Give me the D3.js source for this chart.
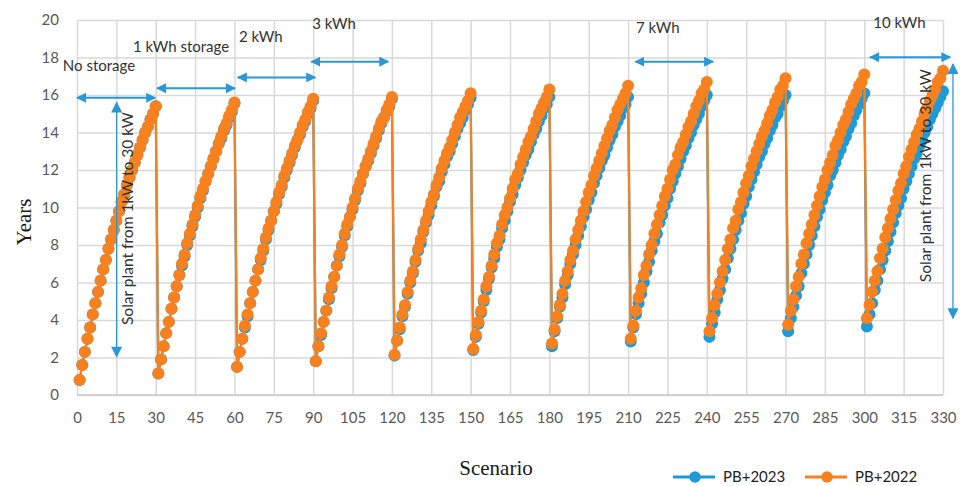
<!DOCTYPE html>
<html>
<head>
<meta charset="utf-8">
<script src="https://cdn.jsdelivr.net/npm/d3@7"></script>
<style>
  html, body { margin: 0; padding: 0; background: #fff; }
  svg { display: block; }
</style>
</head>
<body>
<svg id="chart" width="963" height="486"></svg>
<script>
// ---------------- DATA ----------------
const xTickValues = [0, 15, 30, 45, 60, 75, 90, 105, 120, 135, 150, 165, 180, 195, 210, 225, 240, 255, 270, 285, 300, 315, 330];
const yTickValues = [0, 2, 4, 6, 8, 10, 12, 14, 16, 18, 20];
const seriesNames = ["PB+2023", "PB+2022"];
const storageLabels = ["No storage", "1 kWh storage", "2 kWh", "3 kWh", "7 kWh", "10 kWh"];
const sideLabel = "Solar plant from 1kW to 30 kW";

// PB+2022 (orange)
const pb2022 = [
  0.8,1.6,2.3,3.0,3.6,4.3,4.9,5.5,6.1,6.7,7.2,7.8,8.3,8.8,9.3,9.8,10.3,10.7,11.2,11.6,12.0,12.4,12.8,13.2,13.6,14.0,14.3,14.7,15.0,15.4,
  1.15,1.9,2.6,3.3,3.9,4.6,5.2,5.8,6.4,7.0,7.5,8.1,8.6,9.1,9.6,10.1,10.6,11.0,11.4,11.8,12.2,12.6,13.0,13.4,13.8,14.2,14.5,14.9,15.2,15.6,
  1.5,2.3,3.0,3.7,4.3,4.9,5.5,6.1,6.7,7.3,7.8,8.4,8.9,9.3,9.8,10.3,10.8,11.2,11.7,12.1,12.5,12.9,13.3,13.6,14.0,14.4,14.7,15.1,15.4,15.8,
  1.8,2.6,3.3,3.9,4.5,5.2,5.8,6.3,6.9,7.5,8.0,8.6,9.1,9.5,10.0,10.5,11.0,11.4,11.8,12.2,12.6,13.0,13.4,13.8,14.2,14.6,14.8,15.2,15.5,15.9,
  2.15,2.9,3.6,4.3,4.8,5.5,6.1,6.6,7.2,7.8,8.3,8.8,9.3,9.8,10.3,10.7,11.2,11.6,12.1,12.5,12.9,13.2,13.6,14.0,14.4,14.8,15.1,15.4,15.7,16.1,
  2.45,3.2,3.9,4.5,5.1,5.8,6.3,6.9,7.5,8.1,8.5,9.1,9.6,10.0,10.5,11.0,11.5,11.8,12.3,12.7,13.1,13.5,13.8,14.2,14.6,15.0,15.3,15.6,15.9,16.3,
  2.75,3.5,4.2,4.8,5.4,6.1,6.6,7.2,7.7,8.3,8.8,9.3,9.8,10.3,10.8,11.2,11.7,12.1,12.5,12.9,13.3,13.7,14.1,14.4,14.8,15.2,15.5,15.8,16.1,16.5,
  3.0,3.7,4.5,5.2,5.7,6.4,6.9,7.5,8.0,8.6,9.1,9.6,10.1,10.6,11.0,11.5,12.0,12.3,12.8,13.2,13.5,13.9,14.3,14.6,15.0,15.4,15.7,16.1,16.3,16.7,
  3.4,4.1,4.8,5.4,6.0,6.6,7.2,7.8,8.3,8.9,9.3,9.9,10.3,10.8,11.3,11.7,12.2,12.6,13.0,13.4,13.8,14.1,14.5,14.9,15.2,15.6,15.9,16.3,16.5,16.9,
  3.75,4.5,5.1,5.8,6.3,7.0,7.5,8.1,8.6,9.1,9.6,10.1,10.6,11.1,11.5,12.0,12.4,12.8,13.3,13.6,14.0,14.4,14.7,15.1,15.5,15.8,16.1,16.5,16.7,17.1,
  4.1,4.8,5.5,6.1,6.6,7.3,7.8,8.4,8.9,9.4,9.9,10.4,10.9,11.3,11.8,12.2,12.7,13.1,13.5,13.9,14.2,14.6,15.0,15.3,15.7,16.0,16.3,16.7,16.9,17.3
];

// PB+2023 (blue)
const pb2023 = [
  0.8,1.6,2.3,3.0,3.6,4.3,4.9,5.5,6.1,6.7,7.2,7.8,8.3,8.8,9.3,9.8,10.3,10.7,11.2,11.6,12.0,12.4,12.8,13.2,13.6,14.0,14.3,14.7,15.0,15.4,
  1.15,1.9,2.6,3.3,3.9,4.6,5.2,5.8,6.4,6.9,7.4,8.0,8.5,9.0,9.5,10.0,10.5,10.9,11.4,11.8,12.2,12.6,13.0,13.4,13.7,14.1,14.4,14.8,15.1,15.55,
  1.5,2.3,3.0,3.6,4.2,4.9,5.5,6.1,6.7,7.2,7.7,8.3,8.8,9.3,9.8,10.2,10.7,11.1,11.6,12.0,12.4,12.8,13.2,13.6,13.9,14.3,14.6,15.0,15.3,15.7,
  1.8,2.6,3.2,3.9,4.5,5.1,5.7,6.3,6.9,7.4,7.9,8.5,9.0,9.5,9.9,10.4,10.9,11.3,11.8,12.2,12.5,12.9,13.3,13.7,14.1,14.5,14.8,15.1,15.4,15.8,
  2.1,2.9,3.5,4.2,4.7,5.4,6.0,6.5,7.1,7.7,8.1,8.7,9.2,9.6,10.1,10.6,11.1,11.4,11.9,12.3,12.7,13.0,13.4,13.8,14.2,14.5,14.8,15.2,15.5,15.85,
  2.4,3.1,3.8,4.4,5.0,5.6,6.2,6.8,7.3,7.9,8.3,8.9,9.3,9.8,10.3,10.7,11.2,11.6,12.0,12.4,12.8,13.1,13.5,13.9,14.2,14.6,14.9,15.3,15.5,15.9,
  2.6,3.4,4.1,4.7,5.2,5.9,6.4,7.0,7.5,8.0,8.5,9.0,9.5,9.9,10.4,10.8,11.3,11.7,12.1,12.5,12.8,13.2,13.6,13.9,14.3,14.6,14.9,15.3,15.5,15.9,
  2.85,3.6,4.3,4.9,5.4,6.0,6.6,7.1,7.7,8.2,8.6,9.2,9.6,10.1,10.5,11.0,11.4,11.8,12.2,12.6,13.0,13.3,13.7,14.0,14.4,14.7,15.0,15.4,15.7,16.0,
  3.1,3.8,4.4,5.1,5.6,6.2,6.7,7.3,7.8,8.3,8.8,9.3,9.7,10.2,10.6,11.1,11.5,11.9,12.3,12.7,13.0,13.4,13.7,14.1,14.4,14.8,15.0,15.4,15.7,16.0,
  3.4,4.1,4.7,5.3,5.8,6.5,7.0,7.5,8.0,8.5,9.0,9.5,9.9,10.4,10.8,11.2,11.7,12.0,12.4,12.8,13.1,13.5,13.8,14.2,14.5,14.9,15.2,15.5,15.8,16.1,
  3.65,4.3,4.9,5.6,6.1,6.7,7.2,7.7,8.2,8.7,9.2,9.7,10.1,10.5,11.0,11.4,11.8,12.2,12.6,12.9,13.3,13.6,14.0,14.3,14.7,15.0,15.3,15.6,15.9,16.2
];

// ---------------- LAYOUT / STYLE ----------------
const W = 963, H = 486;
const margin = { left: 77, right: 20, top: 20, bottom: 91 };
const BLUE = "#1e9ad8";
const ORANGE = "#f7811f";
const ARROW = "#2a98d6";
const GRID = "#d9d9d9";
const TICK_TXT = "#595959";
const ANNOT_TXT = "#333333";
const SANS = "Lato, 'Open Sans', sans-serif";
const SERIF = "'Liberation Serif', 'DejaVu Serif', serif";

const svg = d3.select("#chart");

const x = d3.scaleLinear().domain([0, 330]).range([margin.left, W - margin.right]);
const y = d3.scaleLinear().domain([0, 20]).range([H - margin.bottom, margin.top]);

// gridlines
svg.append("g")
  .attr("transform", `translate(0,${y(0)})`)
  .call(d3.axisBottom(x).tickValues(xTickValues).tickSize(-(y(0) - y(20))).tickFormat(""))
  .call(g => g.select(".domain").remove())
  .call(g => g.selectAll("line").attr("stroke", GRID).attr("stroke-width", 1.5));

svg.append("g")
  .attr("transform", `translate(${x(0)},0)`)
  .call(d3.axisLeft(y).tickValues(yTickValues).tickSize(-(x(330) - x(0))).tickFormat(""))
  .call(g => g.select(".domain").remove())
  .call(g => g.selectAll("line").attr("stroke", GRID).attr("stroke-width", 1.5));

// bottom axis line
svg.append("line")
  .attr("x1", x(0)).attr("x2", x(330)).attr("y1", y(0)).attr("y2", y(0))
  .attr("stroke", "#c8c8c8").attr("stroke-width", 1.5);

// tick labels
svg.append("g")
  .attr("transform", `translate(0,${y(0)})`)
  .call(d3.axisBottom(x).tickValues(xTickValues).tickSize(0).tickPadding(17))
  .call(g => g.select(".domain").remove())
  .call(g => g.selectAll("text").attr("fill", TICK_TXT).style("font-family", SANS).style("font-size", "15px"));

svg.append("g")
  .attr("transform", `translate(${x(0)},0)`)
  .call(d3.axisLeft(y).tickValues(yTickValues).tickSize(0).tickPadding(18))
  .call(g => g.select(".domain").remove())
  .call(g => g.selectAll("text").attr("fill", TICK_TXT).style("font-family", SANS).style("font-size", "15px"));

// series
const series = [
  { name: seriesNames[0], values: pb2023, color: BLUE },
  { name: seriesNames[1], values: pb2022, color: ORANGE }
];
const line = d3.line().x((d, i) => x(i + 1)).y(d => y(d));

series.forEach(s => {
  const g = svg.append("g");
  g.append("path")
    .datum(s.values)
    .attr("d", line)
    .attr("fill", "none")
    .attr("stroke", s.color)
    .attr("stroke-width", 2.25);
  g.selectAll("circle")
    .data(s.values)
    .join("circle")
    .attr("cx", (d, i) => x(i + 1))
    .attr("cy", d => y(d))
    .attr("r", 6)
    .attr("fill", s.color);
});

// arrow markers
const defs = svg.append("defs");
defs.append("marker")
  .attr("id", "ah")
  .attr("viewBox", "0 0 10 10")
  .attr("refX", 9).attr("refY", 5)
  .attr("markerWidth", 5).attr("markerHeight", 5)
  .attr("markerUnits", "strokeWidth")
  .attr("orient", "auto-start-reverse")
  .append("path").attr("d", "M0,0 L10,5 L0,10 z").attr("fill", ARROW);
defs.append("marker")
  .attr("id", "ahThin")
  .attr("viewBox", "0 0 10 10")
  .attr("refX", 9).attr("refY", 5)
  .attr("markerWidth", 12).attr("markerHeight", 11)
  .attr("markerUnits", "userSpaceOnUse")
  .attr("orient", "auto-start-reverse")
  .append("path").attr("d", "M0,0 L10,5 L0,10 z").attr("fill", ARROW);

// horizontal storage arrows (data coords)
const hArrows = [
  { x1: 0, x2: 29.8, y: 15.85 },
  { x1: 30.5, x2: 60.2, y: 16.36 },
  { x1: 61.3, x2: 90.8, y: 16.94 },
  { x1: 89.3, x2: 118.6, y: 17.78 },
  { x1: 212.8, x2: 242.4, y: 17.78 },
  { x1: 302.2, x2: 332.8, y: 18.02 }
];
svg.append("g").selectAll("line")
  .data(hArrows).join("line")
  .attr("x1", d => x(d.x1)).attr("x2", d => x(d.x2))
  .attr("y1", d => y(d.y)).attr("y2", d => y(d.y))
  .attr("stroke", ARROW).attr("stroke-width", 2)
  .attr("marker-start", "url(#ah)").attr("marker-end", "url(#ah)");

// storage labels
const labelPos = [
  { x: -5.4, y: 17.3 },
  { x: 21.3, y: 18.29 },
  { x: 61.7, y: 18.83 },
  { x: 89.6, y: 19.52 },
  { x: 213.0, y: 19.31 },
  { x: 303.4, y: 19.57 }
];
svg.append("g").selectAll("text")
  .data(storageLabels).join("text")
  .attr("x", (d, i) => x(labelPos[i].x))
  .attr("y", (d, i) => y(labelPos[i].y))
  .attr("fill", ANNOT_TXT)
  .style("font-family", SANS)
  .style("font-size", "15px")
  .text(d => d);

// vertical arrows
const vArrows = [
  { x: 15.1, y1: 15.6, y2: 2.05 },
  { x: 333.8, y1: 17.65, y2: 4.1 }
];
svg.append("g").selectAll("line")
  .data(vArrows).join("line")
  .attr("x1", d => x(d.x)).attr("x2", d => x(d.x))
  .attr("y1", d => y(d.y1)).attr("y2", d => y(d.y2))
  .attr("stroke", ARROW).attr("stroke-width", 1.3)
  .attr("marker-start", "url(#ahThin)").attr("marker-end", "url(#ahThin)");

// rotated side labels
const sidePos = [
  { x: 21.2, y: 9.41 },
  { x: 325.3, y: 11.7 }
];
svg.append("g").selectAll("text")
  .data(sidePos).join("text")
  .attr("transform", d => `translate(${x(d.x)},${y(d.y)}) rotate(-90)`)
  .attr("text-anchor", "middle")
  .attr("fill", ANNOT_TXT)
  .attr("textLength", 213)
  .attr("lengthAdjust", "spacingAndGlyphs")
  .style("font-family", SANS)
  .style("font-size", "15.5px")
  .text(sideLabel);

// axis titles
svg.append("text")
  .attr("transform", `translate(31,222) rotate(-90)`)
  .attr("text-anchor", "middle")
  .attr("fill", "#1a1a1a")
  .style("font-family", SERIF)
  .style("font-size", "21px")
  .text("Years");

svg.append("text")
  .attr("x", 496).attr("y", 475)
  .attr("text-anchor", "middle")
  .attr("fill", "#1a1a1a")
  .style("font-family", SERIF)
  .style("font-size", "21px")
  .text("Scenario");

// legend
const legendItems = [
  { name: seriesNames[0], color: BLUE, x0: 673 },
  { name: seriesNames[1], color: ORANGE, x0: 805 }
];
const lg = svg.append("g").selectAll("g").data(legendItems).join("g")
  .attr("transform", d => `translate(${d.x0},477)`);
lg.append("line").attr("x1", 0).attr("x2", 42).attr("y1", 0).attr("y2", 0)
  .attr("stroke", d => d.color).attr("stroke-width", 3);
lg.append("circle").attr("cx", 22).attr("cy", 0).attr("r", 5.8).attr("fill", d => d.color);
lg.append("text").attr("x", 50).attr("y", 0).attr("dy", "0.36em")
  .attr("fill", "#222")
  .style("font-family", SANS).style("font-size", "15px")
  .text(d => d.name);
</script>
</body>
</html>
